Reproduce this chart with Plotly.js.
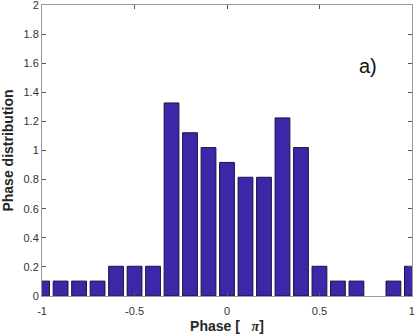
<!DOCTYPE html>
<html>
<head>
<meta charset="utf-8">
<script src="https://cdn.plot.ly/plotly-3.0.1.min.js"></script>
<style>html,body{margin:0;padding:0;background:#fff}#chart{width:415px;height:335px}</style>
</head>
<body>
<div id="chart"></div>
<script>
var binCenters = [-1, -0.9, -0.8, -0.7, -0.6, -0.5, -0.4, -0.3, -0.2, -0.1, 0, 0.1, 0.2, 0.3, 0.4, 0.5, 0.6, 0.7, 0.8, 0.9, 1];
var distribution = [0.102, 0.102, 0.102, 0.102, 0.204, 0.204, 0.204, 1.327, 1.122, 1.020, 0.918, 0.816, 0.816, 1.224, 1.020, 0.204, 0.102, 0.102, 0, 0.102, 0.204];
var xTickVals = [-1, -0.5, 0, 0.5, 1];
var xTickText = ["-1", "-0.5", "0", "0.5", "1"];
var yTickVals = [0, 0.2, 0.4, 0.6, 0.8, 1, 1.2, 1.4, 1.6, 1.8, 2];
var yTickText = ["0", "0.2", "0.4", "0.6", "0.8", "1", "1.2", "1.4", "1.6", "1.8", "2"];

var trace = {
  type: 'bar',
  x: binCenters,
  y: distribution,
  width: 0.08,
  marker: {
    color: '#3b28a8',
    line: {color: '#1a1440', width: distribution.map(function (v) { return v > 0 ? 1 : 0; })}
  },
  hoverinfo: 'none',
  cliponaxis: true
};

var axisCommon = {
  showgrid: false,
  zeroline: false,
  showline: true,
  linecolor: '#9a9a9a',
  linewidth: 1,
  mirror: 'ticks',
  ticks: 'inside',
  ticklen: 4,
  tickcolor: '#555',
  tickwidth: 1,
  ticklabeloverflow: 'allow',
  tickfont: {family: 'Liberation Sans, Arial, sans-serif', size: 11, color: '#333'}
};

var layout = {
  width: 415,
  height: 335,
  margin: {l: 42, r: 3, t: 5, b: 39},
  paper_bgcolor: '#fff',
  plot_bgcolor: '#fff',
  showlegend: false,
  bargap: 0,
  xaxis: Object.assign({}, axisCommon, {
    range: [-1.0005, 1.0005],
    tickmode: 'array',
    tickvals: xTickVals,
    ticktext: xTickText,
    ticklabelstandoff: 5,
    title: {text: '<b>Phase [   <i style="font-family:Liberation Serif, serif">π</i>]</b>', font: {family: 'Liberation Sans, Arial, sans-serif', size: 14, color: '#262626'}, standoff: 4}
  }),
  yaxis: Object.assign({}, axisCommon, {
    range: [-0.0005, 2.0005],
    tickmode: 'array',
    tickvals: yTickVals,
    ticktext: yTickText,
    title: {text: '<b>Phase distribution</b>', font: {family: 'Liberation Sans, Arial, sans-serif', size: 14, color: '#262626'}, standoff: 6}
  }),
  annotations: [{
    xref: 'paper', yref: 'paper', x: 0.882, y: 0.79,
    text: 'a)', showarrow: false,
    font: {family: 'Liberation Sans, Arial, sans-serif', size: 20, color: '#111'},
    xanchor: 'center', yanchor: 'middle'
  }]
};

Plotly.newPlot('chart', [trace], layout, {displayModeBar: false, staticPlot: true});
</script>
</body>
</html>
